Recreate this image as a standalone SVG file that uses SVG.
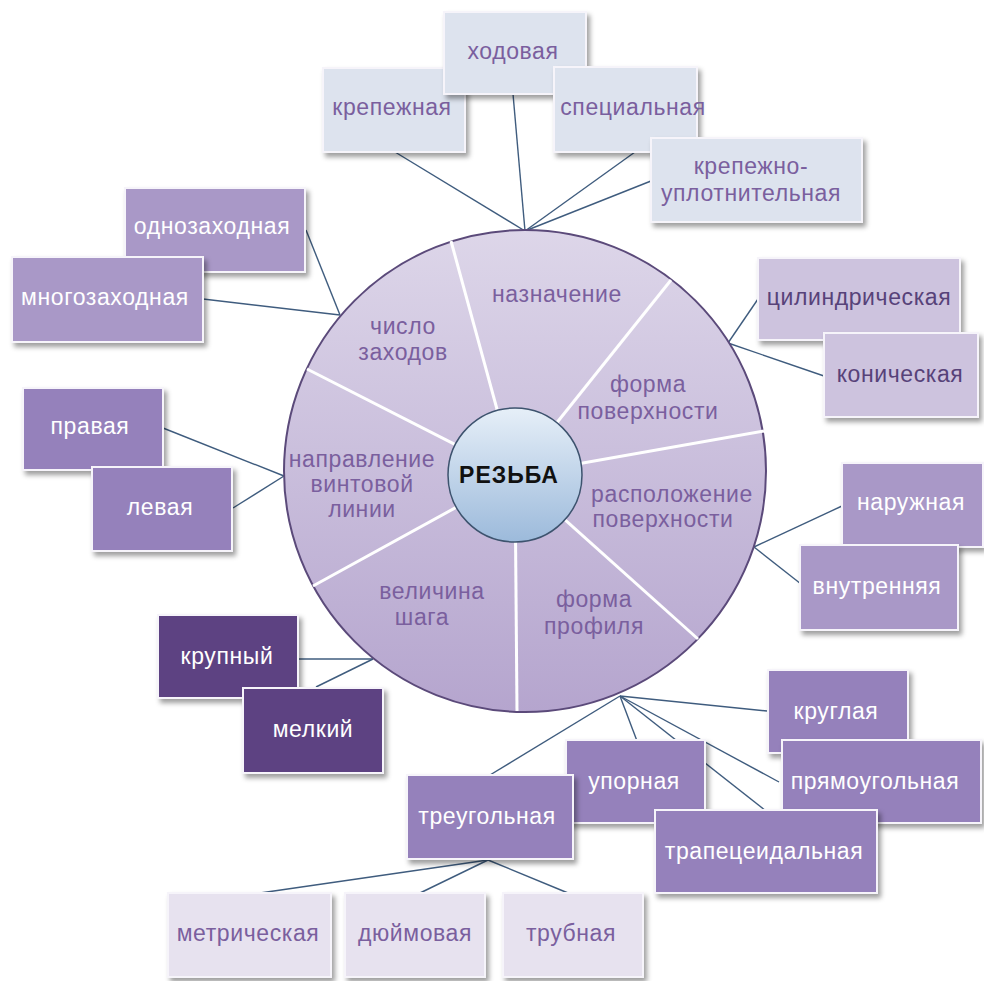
<svg xmlns="http://www.w3.org/2000/svg" width="984" height="981" viewBox="0 0 984 981">
<defs>
<filter id="sh" x="-10%" y="-10%" width="125%" height="130%">
<feDropShadow dx="3" dy="4" stdDeviation="2.5" flood-color="#000" flood-opacity="0.38"/>
</filter>
<linearGradient id="gBig" x1="0" y1="0" x2="0" y2="1">
<stop offset="0" stop-color="#ddd6e9"/>
<stop offset="1" stop-color="#b5a5ce"/>
</linearGradient>
<linearGradient id="gSmall" x1="0" y1="0" x2="0" y2="1">
<stop offset="0" stop-color="#e6eff8"/>
<stop offset="1" stop-color="#9cbadb"/>
</linearGradient>
<style>
text{font-family:"Liberation Sans",Arial,sans-serif;font-size:23px;text-anchor:middle;letter-spacing:0.6px}
.box{stroke:#f6f4fa;stroke-width:2;filter:url(#sh)}
.lt{fill:#dde3ee}
.l2{fill:#e7e2ef}
.m1{fill:#a998c7}
.m2{fill:#9581bb}
.c1{fill:#cdc3de}
.dk{fill:#5d4382}
.tp{fill:#7a5f9e}
.tw{fill:#ffffff}
.td{fill:#574279}
.con line{stroke:#3f5c7e;stroke-width:1.4}
.div line{stroke:#ffffff;stroke-width:3}
</style>
</defs>
<rect width="984" height="981" fill="#ffffff"/>

<g class="con">
<line x1="395" y1="152" x2="525" y2="231"/>
<line x1="513" y1="94" x2="525" y2="231"/>
<line x1="635" y1="152" x2="525" y2="231"/>
<line x1="651" y1="181" x2="525" y2="231"/>
<line x1="306" y1="230" x2="340" y2="315"/>
<line x1="203" y1="299" x2="340" y2="315"/>
<line x1="758" y1="299" x2="728" y2="343"/>
<line x1="824" y1="376" x2="728" y2="343"/>
<line x1="163" y1="428" x2="284" y2="476"/>
<line x1="233" y1="508" x2="284" y2="476"/>
<line x1="842" y1="506" x2="754" y2="547"/>
<line x1="801" y1="584" x2="754" y2="547"/>
<line x1="298" y1="659" x2="373" y2="659"/>
<line x1="316" y1="687" x2="373" y2="659"/>
<line x1="767" y1="711" x2="620" y2="696"/>
<line x1="779" y1="782" x2="620" y2="696"/>
<line x1="766" y1="811" x2="620" y2="696"/>
<line x1="637" y1="741" x2="620" y2="696"/>
<line x1="490" y1="775" x2="620" y2="696"/>
<line x1="488" y1="860" x2="260" y2="893"/>
<line x1="488" y1="860" x2="420" y2="893"/>
<line x1="488" y1="860" x2="568" y2="893"/>
</g>

<g id="wheel">
<circle cx="525" cy="471" r="241" fill="url(#gBig)" stroke="#5b4a7a" stroke-width="2"/>
<g class="div">
<line x1="515" y1="475" x2="451" y2="241"/>
<line x1="515" y1="475" x2="671" y2="280"/>
<line x1="515" y1="475" x2="764" y2="431"/>
<line x1="515" y1="475" x2="698" y2="639"/>
<line x1="515" y1="475" x2="517" y2="711"/>
<line x1="515" y1="475" x2="313" y2="586"/>
<line x1="515" y1="475" x2="307" y2="369"/>
</g>
<g class="tp">
<text x="557" y="302">назначение</text>
<text x="403" y="334">число</text>
<text x="403" y="360">заходов</text>
<text x="648" y="392">форма</text>
<text x="648" y="419">поверхности</text>
<text x="362" y="467">направление</text>
<text x="362" y="492">винтовой</text>
<text x="362" y="517">линии</text>
<text x="672" y="502">расположение</text>
<text x="663" y="527">поверхности</text>
<text x="432" y="599">величина</text>
<text x="422" y="625">шага</text>
<text x="594" y="607">форма</text>
<text x="594" y="634">профиля</text>
</g>
</g>

<g id="center">
<circle cx="515" cy="475" r="67" fill="url(#gSmall)" stroke="#3d536e" stroke-width="1.5"/>
<text x="509" y="483" style="font-weight:bold;font-size:23px;letter-spacing:1px" fill="#111111">РЕЗЬБА</text>
</g>

<g id="n-krepezhnaya"><rect class="box lt" x="323" y="68" width="142" height="84"/><text class="tp" x="392" y="115">крепежная</text></g>
<g id="n-hodovaya"><rect class="box lt" x="444" y="12" width="142" height="82"/><text class="tp" x="513" y="59">ходовая</text></g>
<g id="n-specialnaya"><rect class="box lt" x="554" y="67" width="143" height="85"/><text class="tp" x="633" y="115">специальная</text></g>
<g id="n-krepuplot"><rect class="box lt" x="651" y="138" width="211" height="84"/><text class="tp" x="751" y="174">крепежно-</text><text class="tp" x="751" y="201">уплотнительная</text></g>

<g id="n-odnozahodnaya"><rect class="box m1" x="125" y="188" width="180" height="84"/><text class="tw" x="212" y="234">однозаходная</text></g>
<g id="n-mnogozahodnaya"><rect class="box m1" x="12" y="257" width="191" height="85"/><text class="tw" x="105" y="305">многозаходная</text></g>

<g id="n-cilindr"><rect class="box c1" x="758" y="258" width="202" height="82"/><text class="td" x="859" y="305">цилиндрическая</text></g>
<g id="n-konich"><rect class="box c1" x="824" y="333" width="154" height="84"/><text class="td" x="900" y="382">коническая</text></g>

<g id="n-pravaya"><rect class="box m2" x="23" y="388" width="140" height="82"/><text class="tw" x="90" y="434">правая</text></g>
<g id="n-levaya"><rect class="box m2" x="92" y="467" width="140" height="84"/><text class="tw" x="160" y="515">левая</text></g>

<g id="n-naruzhnaya"><rect class="box m1" x="842" y="463" width="141" height="84"/><text class="tw" x="911" y="510">наружная</text></g>
<g id="n-vnutrennyaya"><rect class="box m1" x="800" y="545" width="158" height="85"/><text class="tw" x="877" y="594">внутренняя</text></g>

<g id="n-krupnyi"><rect class="box dk" x="158" y="615" width="140" height="83"/><text class="tw" x="227" y="664">крупный</text></g>
<g id="n-melkii"><rect class="box dk" x="243" y="688" width="140" height="85"/><text class="tw" x="313" y="737">мелкий</text></g>

<g id="n-kruglaya"><rect class="box m2" x="768" y="670" width="140" height="83"/><text class="tw" x="836" y="719">круглая</text></g>
<g id="n-pryamoug"><rect class="box m2" x="782" y="740" width="199" height="83"/><text class="tw" x="875" y="789">прямоугольная</text></g>
<g id="n-upornaya"><rect class="box m2" x="566" y="740" width="139" height="83"/><text class="tw" x="634" y="789">упорная</text></g>
<g id="n-trapec"><rect class="box m2" x="655" y="810" width="222" height="83"/><text class="tw" x="764" y="859">трапецеидальная</text></g>
<g id="n-treug"><rect class="box m2" x="407" y="775" width="166" height="84"/><text class="tw" x="487" y="824">треугольная</text></g>

<g id="n-metr"><rect class="box l2" x="168" y="893" width="163" height="84"/><text class="tp" x="248" y="941">метрическая</text></g>
<g id="n-duim"><rect class="box l2" x="345" y="893" width="140" height="84"/><text class="tp" x="415" y="941">дюймовая</text></g>
<g id="n-trub"><rect class="box l2" x="503" y="893" width="140" height="84"/><text class="tp" x="571" y="941">трубная</text></g>
</svg>
